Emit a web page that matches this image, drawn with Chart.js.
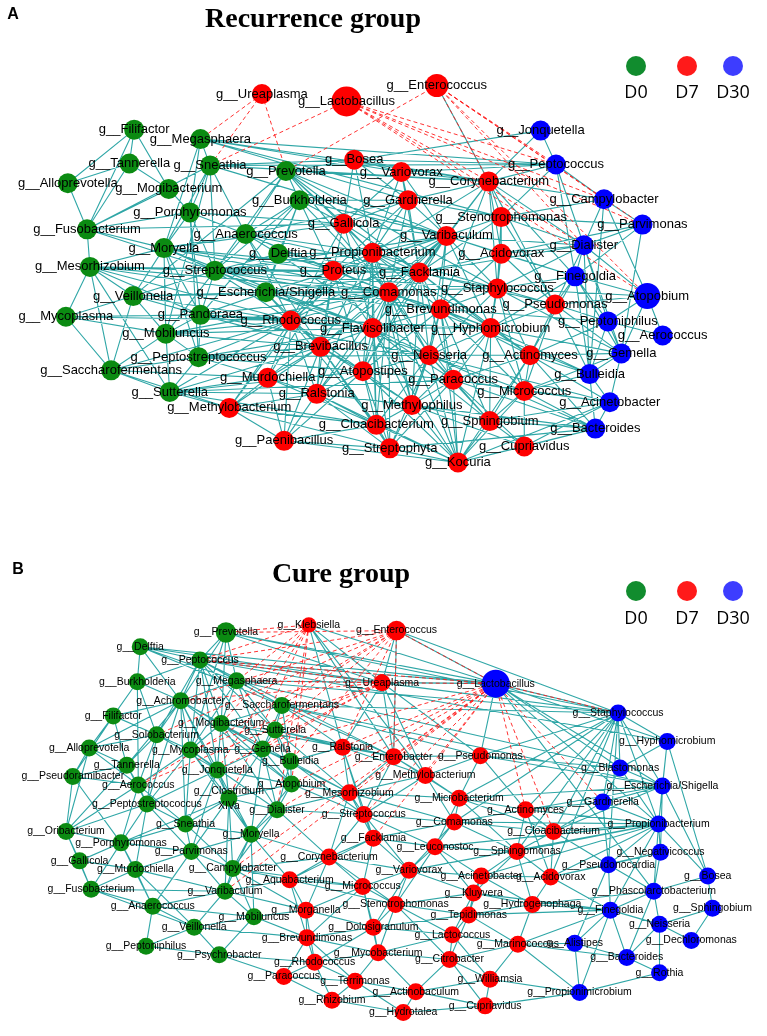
<!DOCTYPE html>
<html>
<head>
<meta charset="utf-8">
<script src="https://cdn.jsdelivr.net/npm/chart.js@4.4.1/dist/chart.umd.min.js"></script>
<style>
  body { margin: 0; background: #fff; }
  #wrap { position: relative; width: 767px; height: 1036px; overflow: hidden; }
  canvas { position: absolute; left: 0; }
  .tag { position: absolute; font: bold 16px "Liberation Sans", Arial, sans-serif; transform: translate(-50%, -50%); }
  .title { position: absolute; font: bold 28px "Liberation Serif", "Times New Roman", serif; transform: translate(-50%, -50%); white-space: nowrap; }
  .dot { position: absolute; width: 20px; height: 20px; border-radius: 50%; transform: translate(-50%, -50%); }
  .lab { position: absolute; font: 18px "Open Sans", "Liberation Sans", sans-serif; transform: translate(-50%, -50%); }
</style>
</head>
<body>
<div id="wrap">
  <canvas id="netA" width="767" height="500" style="top:0;width:767px;height:500px"></canvas>
  <canvas id="netB" width="767" height="536" style="top:500px;width:767px;height:536px"></canvas>

  <div class="tag" style="left:13px;top:14px">A</div>
  <div class="title" style="left:313px;top:18px">Recurrence group</div>
  <div class="dot" style="left:636px;top:66px;background:#118c2e"></div>
  <div class="dot" style="left:687px;top:66px;background:#ff1a1a"></div>
  <div class="dot" style="left:733px;top:66px;background:#3d3dff"></div>
  <div class="lab" style="left:636px;top:91px">D0</div>
  <div class="lab" style="left:687px;top:91px">D7</div>
  <div class="lab" style="left:733px;top:91px">D30</div>

  <div class="tag" style="left:18px;top:569px">B</div>
  <div class="title" style="left:341px;top:573px">Cure group</div>
  <div class="dot" style="left:636px;top:591px;background:#118c2e"></div>
  <div class="dot" style="left:687px;top:591px;background:#ff1a1a"></div>
  <div class="dot" style="left:733px;top:591px;background:#3d3dff"></div>
  <div class="lab" style="left:636px;top:617px">D0</div>
  <div class="lab" style="left:687px;top:617px">D7</div>
  <div class="lab" style="left:733px;top:617px">D30</div>
</div>

<script>
// ---------- A: Recurrence group (layout coordinates) ----------
const aD0Names = ["Filifactor","Megasphaera","Tannerella","Sneathia","Prevotella","Alloprevotella","Mogibacterium",
  "Burkholderia","Porphyromonas","Fusobacterium","Anaerococcus","Moryella","Delftia","Mesorhizobium","Streptococcus",
  "Escherichia/Shigella","Veillonella","Pandoraea","Mycoplasma","Mobiluncus","Peptostreptococcus","Saccharofermentans","Sutterella"];
const aD0X = [124,193,119,203,282,55,160,296,182,75,240,155,274,78,208,261,123,193,53,157,191,100,161];
const aD0Y = [122,132,158,160,166,179,185,197,210,228,233,248,254,268,272,295,299,319,321,339,364,378,401];

const aD7Names = ["Ureaplasma","Lactobacillus","Enterococcus","Bosea","Variovorax","Corynebacterium","Gardnerella",
  "Gallicola","Stenotrophomonas","Varibaculum","Propionibacterium","Acidovorax","Proteus","Facklamia","Comamonas",
  "Staphylococcus","Brevundimonas","Pseudomonas","Rhodococcus","Flavisolibacter","Hyphomicrobium","Brevibacillus",
  "Neisseria","Actinomyces","Atopostipes","Murdochiella","Paracoccus","Ralstonia","Micrococcus","Methylobacterium",
  "Methylophilus","Cloacibacterium","Sphingobium","Paenibacillus","Streptophyta","Cupriavidus","Kocuria"];
const aD7X = [257,345,439,353,402,493,409,342,506,449,372,506,331,421,389,502,443,562,287,372,495,318,431,536,362,263,456,314,530,223,413,376,494,280,390,530,461];
const aD7Y = [84,92,75,154,167,177,197,222,215,235,253,254,272,274,295,291,313,308,325,333,333,353,362,362,379,386,388,403,400,418,415,436,432,453,461,459,476];

const aD30Names = ["Jonquetella","Peptococcus","Campylobacter","Parvimonas","Dialister","Finegoldia","Atopobium",
  "Peptoniphilus","Aerococcus","Gemella","Bulleidia","Acinetobacter","Bacteroides"];
const aD30X = [547,563,613,653,592,583,658,617,674,631,598,619,604];
const aD30Y = [123,159,196,223,245,278,299,326,341,360,382,412,440];

const aBigNames = ["Lactobacillus","Enterococcus","Atopobium"];
const aBigWeights = [1.5, 1.15, 1.3];

const aPosEdges = [
  "Filifactor: Tannerella Alloprevotella Mogibacterium Fusobacterium",
  "Tannerella: Alloprevotella Mogibacterium Fusobacterium",
  "Alloprevotella: Fusobacterium",
  "Mogibacterium: Fusobacterium Porphyromonas",
  "Megasphaera: Sneathia Porphyromonas Moryella Corynebacterium Variovorax Peptococcus Gardnerella Stenotrophomonas",
  "Sneathia: Porphyromonas Moryella Streptococcus Anaerococcus Bosea Corynebacterium Varibaculum Peptococcus Fusobacterium Mobiluncus",
  "Prevotella: Burkholderia Anaerococcus Streptococcus Gallicola Propionibacterium Varibaculum Corynebacterium Staphylococcus Comamonas Facklamia Jonquetella Veillonella",
  "Burkholderia: Anaerococcus Delftia Streptococcus Gallicola Proteus Escherichia/Shigella Varibaculum Gardnerella Comamonas Pandoraea",
  "Porphyromonas: Fusobacterium Moryella Streptococcus Anaerococcus Gallicola Pandoraea Peptostreptococcus",
  "Fusobacterium: Mesorhizobium Moryella Gallicola Streptococcus",
  "Anaerococcus: Moryella Streptococcus Delftia Proteus Facklamia Propionibacterium Comamonas Rhodococcus Brevibacillus Gardnerella",
  "Moryella: Mesorhizobium Streptococcus Veillonella Escherichia/Shigella Pandoraea Mobiluncus Peptostreptococcus Proteus Facklamia Comamonas Flavisolibacter Gallicola",
  "Delftia: Streptococcus Proteus Propionibacterium Facklamia Escherichia/Shigella Neisseria",
  "Mesorhizobium: Veillonella Mycoplasma Saccharofermentans Streptococcus Escherichia/Shigella Proteus Comamonas Rhodococcus Pandoraea Sutterella Facklamia",
  "Streptococcus: Escherichia/Shigella Pandoraea Veillonella Mobiluncus Proteus Propionibacterium Comamonas Facklamia Flavisolibacter Rhodococcus Varibaculum Staphylococcus Brevundimonas",
  "Veillonella: Mycoplasma Saccharofermentans Mobiluncus Pandoraea Escherichia/Shigella Comamonas Rhodococcus",
  "Escherichia/Shigella: Pandoraea Proteus Comamonas Rhodococcus Flavisolibacter Facklamia Brevundimonas Brevibacillus Staphylococcus Varibaculum Neisseria",
  "Mycoplasma: Saccharofermentans Mobiluncus Rhodococcus Pandoraea",
  "Pandoraea: Mobiluncus Peptostreptococcus Rhodococcus Flavisolibacter Brevibacillus Comamonas Hyphomicrobium Neisseria",
  "Mobiluncus: Saccharofermentans Peptostreptococcus Sutterella Rhodococcus Brevibacillus Flavisolibacter Comamonas",
  "Peptostreptococcus: Saccharofermentans Sutterella Brevibacillus Murdochiella Rhodococcus Atopostipes Flavisolibacter Neisseria",
  "Saccharofermentans: Sutterella Murdochiella Methylobacterium Rhodococcus",
  "Sutterella: Murdochiella Methylobacterium Brevibacillus Ralstonia Rhodococcus Atopostipes Cloacibacterium Paracoccus",
  "Enterococcus: Corynebacterium",
  "Bosea: Variovorax Gallicola Propionibacterium Corynebacterium Gardnerella Peptococcus",
  "Variovorax: Gardnerella Corynebacterium Gallicola Varibaculum Peptococcus Propionibacterium Facklamia",
  "Corynebacterium: Gardnerella Stenotrophomonas Varibaculum Acidovorax Peptococcus Campylobacter Dialister Facklamia Propionibacterium Staphylococcus Pseudomonas Finegoldia Jonquetella Brevundimonas",
  "Gardnerella: Gallicola Varibaculum Propionibacterium Stenotrophomonas Facklamia Comamonas Proteus",
  "Gallicola: Propionibacterium Proteus Varibaculum Facklamia Comamonas Flavisolibacter Rhodococcus",
  "Stenotrophomonas: Varibaculum Acidovorax Dialister Peptococcus Parvimonas Staphylococcus Pseudomonas Facklamia Campylobacter",
  "Varibaculum: Propionibacterium Acidovorax Facklamia Comamonas Proteus Staphylococcus Brevundimonas Flavisolibacter Hyphomicrobium Neisseria Dialister Atopostipes Rhodococcus Brevibacillus Murdochiella Finegoldia",
  "Propionibacterium: Proteus Facklamia Comamonas Brevundimonas Flavisolibacter Rhodococcus Brevibacillus Atopostipes Neisseria Ralstonia Methylophilus Cloacibacterium Hyphomicrobium Staphylococcus",
  "Acidovorax: Facklamia Staphylococcus Pseudomonas Dialister Finegoldia Hyphomicrobium Brevundimonas Parvimonas",
  "Proteus: Facklamia Comamonas Rhodococcus Flavisolibacter Brevibacillus Atopostipes Murdochiella Ralstonia Methylobacterium",
  "Facklamia: Comamonas Staphylococcus Brevundimonas Flavisolibacter Hyphomicrobium Neisseria Atopostipes Actinomyces Paracoccus Methylophilus Pseudomonas Dialister",
  "Comamonas: Brevundimonas Rhodococcus Flavisolibacter Brevibacillus Atopostipes Neisseria Ralstonia Paracoccus Cloacibacterium Hyphomicrobium Methylophilus Streptophyta Kocuria Bulleidia",
  "Staphylococcus: Brevundimonas Pseudomonas Hyphomicrobium Actinomyces Finegoldia Dialister Neisseria Micrococcus Gemella Atopobium",
  "Brevundimonas: Flavisolibacter Hyphomicrobium Neisseria Atopostipes Paracoccus Actinomyces Micrococcus Methylophilus Sphingobium Kocuria Peptoniphilus",
  "Pseudomonas: Hyphomicrobium Actinomyces Finegoldia Peptoniphilus Atopobium Gemella Bulleidia Micrococcus Dialister",
  "Rhodococcus: Flavisolibacter Brevibacillus Murdochiella Ralstonia Methylobacterium Atopostipes Paenibacillus Cloacibacterium",
  "Flavisolibacter: Brevibacillus Atopostipes Neisseria Ralstonia Methylophilus Cloacibacterium Paracoccus Streptophyta Kocuria Hyphomicrobium Sphingobium",
  "Hyphomicrobium: Neisseria Actinomyces Paracoccus Micrococcus Sphingobium Kocuria Bulleidia Gemella Methylophilus Finegoldia",
  "Brevibacillus: Atopostipes Murdochiella Ralstonia Methylobacterium Paenibacillus Cloacibacterium Streptophyta Methylophilus Neisseria",
  "Neisseria: Atopostipes Paracoccus Actinomyces Micrococcus Methylophilus Sphingobium Kocuria Cloacibacterium Streptophyta Bacteroides Acinetobacter",
  "Actinomyces: Paracoccus Micrococcus Sphingobium Bulleidia Gemella Acinetobacter Bacteroides Kocuria Finegoldia Peptoniphilus",
  "Atopostipes: Ralstonia Methylophilus Cloacibacterium Paracoccus Streptophyta Kocuria Paenibacillus",
  "Murdochiella: Ralstonia Methylobacterium Paenibacillus Cloacibacterium",
  "Paracoccus: Micrococcus Methylophilus Sphingobium Kocuria Cupriavidus Streptophyta Bacteroides Acinetobacter",
  "Ralstonia: Methylobacterium Paenibacillus Cloacibacterium Streptophyta Methylophilus Kocuria",
  "Micrococcus: Sphingobium Cupriavidus Kocuria Bacteroides Acinetobacter Bulleidia Gemella",
  "Methylobacterium: Paenibacillus Cloacibacterium Streptophyta",
  "Methylophilus: Cloacibacterium Sphingobium Streptophyta Kocuria Cupriavidus Bacteroides",
  "Cloacibacterium: Paenibacillus Streptophyta Kocuria",
  "Sphingobium: Kocuria Cupriavidus Bacteroides Acinetobacter",
  "Paenibacillus: Streptophyta Kocuria",
  "Streptophyta: Kocuria Bacteroides",
  "Cupriavidus: Kocuria Bacteroides Acinetobacter",
  "Kocuria: Bacteroides Acinetobacter",
  "Jonquetella: Peptococcus",
  "Peptococcus: Campylobacter Dialister Finegoldia",
  "Campylobacter: Parvimonas Dialister Bulleidia Atopobium",
  "Parvimonas: Dialister Finegoldia Gemella",
  "Dialister: Finegoldia Peptoniphilus Gemella Bulleidia Atopobium",
  "Finegoldia: Atopobium Peptoniphilus Gemella Bulleidia",
  "Atopobium: Peptoniphilus Aerococcus Gemella",
  "Peptoniphilus: Aerococcus Gemella Bulleidia",
  "Gemella: Bulleidia Acinetobacter",
  "Bulleidia: Acinetobacter Bacteroides",
  "Acinetobacter: Bacteroides"
];
const aNegEdges = [
  "Ureaplasma: Megasphaera Sneathia Prevotella",
  "Lactobacillus: Sneathia Corynebacterium Peptococcus Campylobacter Dialister Atopobium Parvimonas",
  "Enterococcus: Prevotella Corynebacterium Peptococcus Parvimonas Dialister Atopobium Campylobacter"
];

// ---------- B: Cure group (layout coordinates) ----------
const bD0Names = ["Prevotella","Delftia","Peptococcus","Burkholderia","Megasphaera","Achromobacter","Saccharofermentans",
  "Filifactor","Mogibacterium","Sutterella","Solobacterium","Alloprevotella","Mycoplasma","Gemella","Tannerella","Bulleidia",
  "Pseudoramibacter","Jonquetella","Aerococcus","Atopobium","Clostridium\nXIVa","Peptostreptococcus","Dialister","Oribacterium",
  "Sneathia","Moryella","Porphyromonas","Parvimonas","Gallicola","Murdochiella","Campylobacter","Fusobacterium","Varibaculum",
  "Anaerococcus","Mobiluncus","Veillonella","Peptoniphilus","Psychrobacter"];
const bD0X = [220,131,193,128,231,173,278,103,215,271,148,78,183,258,117,287,61,211,129,288,223,138,273,54,178,246,111,184,68,126,227,80,219,144,249,187,137,213];
const bD0Y = [625,640,654,677,676,697,702,713,721,728,733,747,749,748,765,761,777,770,786,785,800,806,812,835,827,838,847,856,866,875,874,896,898,914,925,936,956,965];

const bD7Names = ["Klebsiella","Enterococcus","Ureaplasma","Ralstonia","Enterobacter","Pseudomonas","Methylobacterium",
  "Mesorhizobium","Microbacterium","Actinomyces","Streptococcus","Comamonas","Cloacibacterium","Facklamia","Leuconostoc",
  "Sphingomonas","Corynebacterium","Variovorax","Acinetobacter","Acidovorax","Aquabacterium","Micrococcus","Kluyvera",
  "Stenotrophomonas","Hydrogenophaga","Morganella","Tepidimonas","Dolosigranulum","Lactococcus","Brevundimonas","Marinococcus",
  "Mycobacterium","Citrobacter","Rhodococcus","Paracoccus","Terrimonas","Williamsia","Actinobaculum","Rhizobium","Cupriavidus","Hydrotalea"];
const bD7X = [306,397,382,341,394,484,427,348,462,531,363,457,560,373,437,522,327,410,485,557,286,362,477,396,538,303,472,373,455,304,523,378,452,312,280,354,494,417,330,489,404];
const bD7Y = [617,623,678,746,756,755,776,794,800,812,817,825,835,842,851,856,862,876,882,883,886,893,900,912,912,918,923,936,944,947,954,963,970,973,988,993,991,1004,1013,1019,1026];

const bD30Names = ["Lactobacillus","Staphylococcus","Hyphomicrobium","Blastomonas","Escherichia/Shigella","Gardnerella",
  "Propionibacterium","Negativicoccus","Pseudonocardia","Bosea","Phascolarctobacterium","Sphingobium","Finegoldia","Neisseria",
  "Dechloromonas","Alistipes","Bacteroides","Rothia","Propionimicrobium"];
const bD30X = [500,627,678,629,673,611,669,671,617,720,664,725,619,670,703,582,636,670,587];
const bD30Y = [679,710,740,768,787,804,827,857,870,882,898,916,918,933,950,953,968,984,1005];

const bBigNames = ["Lactobacillus","Prevotella","Enterococcus","Klebsiella"];
const bBigWeights = [1.65, 1.2, 1.15, 0.9];

const bPosEdges = [
  "Prevotella: Peptococcus Achromobacter Megasphaera Mogibacterium Mycoplasma Ureaplasma Lactobacillus Staphylococcus",
  "Delftia: Peptococcus Burkholderia Achromobacter Megasphaera Saccharofermentans Ureaplasma Lactobacillus",
  "Peptococcus: Burkholderia Achromobacter Megasphaera Saccharofermentans Mogibacterium Sutterella Solobacterium Mycoplasma Gemella Jonquetella Lactobacillus Ureaplasma Enterobacter Staphylococcus Hyphomicrobium",
  "Burkholderia: Achromobacter Filifactor Solobacterium Aerococcus",
  "Megasphaera: Achromobacter Saccharofermentans Mogibacterium Sutterella Gemella Mycoplasma Lactobacillus Staphylococcus Blastomonas",
  "Achromobacter: Filifactor Solobacterium Mogibacterium Mycoplasma Alloprevotella Tannerella Jonquetella Gemella Atopobium Clostridium Peptostreptococcus Sneathia",
  "Saccharofermentans: Mogibacterium Sutterella Gemella Bulleidia Ralstonia Enterobacter Pseudomonas Staphylococcus Escherichia/Shigella",
  "Filifactor: Alloprevotella Solobacterium Tannerella Pseudoramibacter",
  "Mogibacterium: Sutterella Mycoplasma Gemella Jonquetella Bulleidia Atopobium Clostridium Dialister Ralstonia",
  "Sutterella: Gemella Bulleidia Atopobium Ralstonia Enterobacter Mesorhizobium",
  "Solobacterium: Alloprevotella Mycoplasma Tannerella Aerococcus Jonquetella Peptostreptococcus",
  "Alloprevotella: Tannerella Pseudoramibacter Aerococcus Oribacterium",
  "Mycoplasma: Gemella Jonquetella Aerococcus Clostridium Peptostreptococcus Sneathia Moryella Dialister",
  "Gemella: Bulleidia Jonquetella Atopobium Clostridium Dialister Moryella Mesorhizobium",
  "Tannerella: Pseudoramibacter Aerococcus Peptostreptococcus Oribacterium",
  "Bulleidia: Atopobium Dialister Mesorhizobium Streptococcus Ralstonia",
  "Pseudoramibacter: Aerococcus Oribacterium Porphyromonas",
  "Jonquetella: Clostridium Sneathia Parvimonas Moryella Atopobium Peptostreptococcus",
  "Aerococcus: Peptostreptococcus Porphyromonas Oribacterium Sneathia",
  "Atopobium: Clostridium Dialister Moryella Streptococcus Mesorhizobium",
  "Clostridium: Sneathia Moryella Parvimonas Campylobacter Dialister Varibaculum Porphyromonas",
  "Peptostreptococcus: Porphyromonas Oribacterium Sneathia Parvimonas Murdochiella",
  "Dialister: Moryella Campylobacter Mesorhizobium Streptococcus Corynebacterium",
  "Oribacterium: Porphyromonas Gallicola Fusobacterium",
  "Sneathia: Porphyromonas Parvimonas Moryella Campylobacter",
  "Moryella: Campylobacter Parvimonas Varibaculum Mobiluncus Corynebacterium Aquabacterium",
  "Porphyromonas: Gallicola Murdochiella Parvimonas Fusobacterium Anaerococcus",
  "Parvimonas: Murdochiella Campylobacter Varibaculum Anaerococcus",
  "Gallicola: Murdochiella Fusobacterium",
  "Murdochiella: Fusobacterium Anaerococcus Varibaculum Veillonella",
  "Campylobacter: Varibaculum Mobiluncus Corynebacterium Aquabacterium Micrococcus Morganella",
  "Fusobacterium: Anaerococcus Varibaculum Veillonella",
  "Varibaculum: Anaerococcus Mobiluncus Veillonella Aquabacterium Morganella",
  "Anaerococcus: Veillonella Peptoniphilus Mobiluncus",
  "Mobiluncus: Veillonella Psychrobacter Morganella Brevundimonas",
  "Veillonella: Peptoniphilus Psychrobacter Brevundimonas",
  "Peptoniphilus: Psychrobacter",
  "Psychrobacter: Rhodococcus Paracoccus",
  "Klebsiella: Ureaplasma Enterobacter Ralstonia Lactobacillus Methylobacterium",
  "Enterococcus: Ureaplasma Lactobacillus Staphylococcus Enterobacter",
  "Ureaplasma: Ralstonia Enterobacter Methylobacterium Pseudomonas Lactobacillus Staphylococcus",
  "Lactobacillus: Staphylococcus Pseudomonas Hyphomicrobium Blastomonas Escherichia/Shigella Propionibacterium Phascolarctobacterium",
  "Ralstonia: Enterobacter Mesorhizobium Streptococcus Methylobacterium Facklamia",
  "Enterobacter: Methylobacterium Pseudomonas Mesorhizobium Streptococcus Microbacterium",
  "Pseudomonas: Methylobacterium Microbacterium Actinomyces Staphylococcus Blastomonas",
  "Methylobacterium: Mesorhizobium Microbacterium Comamonas Streptococcus",
  "Mesorhizobium: Streptococcus Facklamia Corynebacterium Microbacterium Comamonas",
  "Microbacterium: Comamonas Actinomyces Leuconostoc Cloacibacterium Sphingomonas",
  "Streptococcus: Facklamia Comamonas Corynebacterium Leuconostoc Variovorax",
  "Actinomyces: Cloacibacterium Sphingomonas Comamonas Acidovorax Gardnerella Propionibacterium",
  "Comamonas: Leuconostoc Facklamia Sphingomonas Variovorax Cloacibacterium",
  "Facklamia: Corynebacterium Leuconostoc Variovorax Micrococcus Aquabacterium",
  "Leuconostoc: Sphingomonas Variovorax Acinetobacter Kluyvera Stenotrophomonas",
  "Sphingomonas: Cloacibacterium Acidovorax Acinetobacter Kluyvera Hydrogenophaga",
  "Cloacibacterium: Acidovorax Propionibacterium Gardnerella Pseudonocardia",
  "Corynebacterium: Aquabacterium Micrococcus Variovorax Morganella Stenotrophomonas",
  "Variovorax: Micrococcus Stenotrophomonas Acinetobacter Kluyvera Dolosigranulum",
  "Acinetobacter: Acidovorax Kluyvera Tepidimonas Hydrogenophaga",
  "Acidovorax: Hydrogenophaga Pseudonocardia Finegoldia Propionibacterium Negativicoccus",
  "Aquabacterium: Micrococcus Morganella Stenotrophomonas Brevundimonas",
  "Micrococcus: Stenotrophomonas Morganella Dolosigranulum Brevundimonas Mycobacterium",
  "Kluyvera: Tepidimonas Hydrogenophaga Stenotrophomonas Lactococcus",
  "Stenotrophomonas: Dolosigranulum Tepidimonas Mycobacterium Lactococcus Citrobacter",
  "Morganella: Dolosigranulum Brevundimonas Rhodococcus",
  "Hydrogenophaga: Tepidimonas Marinococcus Finegoldia Phascolarctobacterium",
  "Tepidimonas: Lactococcus Dolosigranulum Marinococcus Citrobacter",
  "Dolosigranulum: Brevundimonas Mycobacterium Lactococcus Rhodococcus",
  "Brevundimonas: Rhodococcus Mycobacterium Paracoccus Terrimonas",
  "Lactococcus: Citrobacter Marinococcus Mycobacterium Williamsia",
  "Marinococcus: Citrobacter Williamsia Alistipes Propionimicrobium Bacteroides Finegoldia",
  "Mycobacterium: Rhodococcus Terrimonas Actinobaculum Citrobacter",
  "Rhodococcus: Paracoccus Terrimonas Rhizobium",
  "Citrobacter: Williamsia Actinobaculum Cupriavidus",
  "Paracoccus: Rhizobium Terrimonas",
  "Terrimonas: Rhizobium Actinobaculum Hydrotalea",
  "Williamsia: Actinobaculum Cupriavidus Propionimicrobium",
  "Actinobaculum: Hydrotalea Cupriavidus Rhizobium",
  "Rhizobium: Hydrotalea",
  "Hydrotalea: Cupriavidus",
  "Cupriavidus: Propionimicrobium",
  "Staphylococcus: Hyphomicrobium Blastomonas Escherichia/Shigella Gardnerella Propionibacterium Pseudonocardia Cloacibacterium Actinomyces Sphingomonas Acidovorax Microbacterium Comamonas",
  "Hyphomicrobium: Blastomonas Escherichia/Shigella Propionibacterium Bosea",
  "Blastomonas: Escherichia/Shigella Gardnerella Propionibacterium",
  "Escherichia/Shigella: Gardnerella Propionibacterium Negativicoccus Bosea Cloacibacterium Actinomyces Microbacterium Pseudomonas",
  "Gardnerella: Propionibacterium Pseudonocardia",
  "Propionibacterium: Negativicoccus Pseudonocardia Bosea Phascolarctobacterium Finegoldia Cloacibacterium Actinomyces Sphingomonas Acidovorax Acinetobacter Variovorax Leuconostoc Comamonas",
  "Negativicoccus: Pseudonocardia Phascolarctobacterium",
  "Pseudonocardia: Phascolarctobacterium Finegoldia Alistipes",
  "Bosea: Phascolarctobacterium Sphingobium",
  "Phascolarctobacterium: Finegoldia Neisseria Bacteroides",
  "Sphingobium: Dechloromonas Neisseria",
  "Finegoldia: Neisseria Alistipes Bacteroides Propionimicrobium Hydrogenophaga Acidovorax Tepidimonas Kluyvera",
  "Neisseria: Dechloromonas Bacteroides Rothia",
  "Alistipes: Bacteroides Propionimicrobium",
  "Bacteroides: Rothia",
  "Propionimicrobium: Rothia"
];
const bNegEdges = [
  "Klebsiella: Prevotella Peptococcus Megasphaera Mogibacterium Jonquetella Atopobium Dialister Clostridium",
  "Enterococcus: Prevotella Peptococcus Achromobacter Saccharofermentans Solobacterium Aerococcus Sutterella Ralstonia Enterobacter Bulleidia",
  "Ureaplasma: Peptococcus Megasphaera Achromobacter Gemella Jonquetella Aerococcus Mycoplasma",
  "Lactobacillus: Ureaplasma Enterococcus Peptococcus Ralstonia Enterobacter Methylobacterium Mesorhizobium Streptococcus Facklamia Campylobacter Varibaculum Atopobium Gemella Staphylococcus Gardnerella Actinomyces Cloacibacterium Dialister"
];

// ---------- helpers ----------
function buildNodes(names, xs, ys, bigNames, bigWeights) {
  return names.map((n, i) => {
    const key = n.split('\n')[0];
    const k = bigNames.indexOf(key);
    return { x: xs[i], y: ys[i], name: n, key: key, w: k >= 0 ? bigWeights[k] : 1 };
  });
}

function buildEdges(list, nodes) {
  const lookup = {};
  nodes.forEach(p => { lookup[p.key] = p; });
  const out = [];
  list.forEach(row => {
    const parts = row.split(':');
    const a = lookup[parts[0].trim()];
    parts[1].trim().split(/\s+/).forEach(t => {
      const b = lookup[t];
      if (!a || !b) { console.warn('missing node', parts[0], t); return; }
      out.push({ x: a.x, y: a.y }, { x: b.x, y: b.y }, { x: NaN, y: NaN });
    });
  });
  return out;
}

const nodeLabels = {
  id: 'nodeLabels',
  afterDatasetsDraw(chart, args, opts) {
    const ctx = chart.ctx;
    ctx.save();
    ctx.font = opts.size + 'px "Liberation Sans", Arial, sans-serif';
    ctx.fillStyle = '#000';
    ctx.textAlign = 'center';
    ctx.textBaseline = 'middle';
    const lh = opts.size * 1.4;
    chart.data.datasets.forEach((ds, i) => {
      if (!ds.isNode) return;
      chart.getDatasetMeta(i).data.forEach((pt, j) => {
        const lines = ('g__' + ds.data[j].name).split('\n');
        lines.forEach((s, k) => {
          ctx.fillText(s, pt.x, pt.y - (lines.length - 1) * lh / 2 + k * lh);
        });
      });
    });
    ctx.restore();
  }
};

function drawNetwork(id, groups, posEdges, negEdges, yMin, yMax, baseR, fontSize) {
  const all = groups.flatMap(g => g.nodes);
  const colors = ['#0b8b12', '#ff0000', '#0000ff'];
  const datasets = groups.map((g, gi) => ({
    label: g.label,
    isNode: true,
    order: 0,
    data: g.nodes,
    backgroundColor: colors[gi],
    borderColor: colors[gi],
    borderWidth: 0,
    pointRadius: c => baseR * c.raw.w,
    pointHoverRadius: c => baseR * c.raw.w
  }));
  datasets.push({
    label: 'negative',
    order: 1,
    data: buildEdges(negEdges, all),
    showLine: true,
    borderColor: 'rgba(255,30,30,0.9)',
    borderWidth: 1,
    borderDash: [4, 3],
    pointRadius: 0,
    pointHitRadius: 0
  });
  datasets.push({
    label: 'positive',
    order: 2,
    data: buildEdges(posEdges, all),
    showLine: true,
    borderColor: 'rgba(10,150,150,0.85)',
    borderWidth: 1.1,
    pointRadius: 0,
    pointHitRadius: 0
  });
  new Chart(document.getElementById(id), {
    type: 'scatter',
    data: { datasets: datasets },
    options: {
      responsive: false,
      animation: false,
      events: [],
      layout: { padding: 0 },
      scales: {
        x: { type: 'linear', min: 0, max: 767, display: false },
        y: { type: 'linear', min: yMin, max: yMax, reverse: true, display: false }
      },
      plugins: {
        legend: { display: false },
        tooltip: { enabled: false },
        nodeLabels: { size: fontSize }
      }
    },
    plugins: [nodeLabels]
  });
}

drawNetwork('netA', [
  { label: 'D0', nodes: buildNodes(aD0Names, aD0X, aD0Y, aBigNames, aBigWeights) },
  { label: 'D7', nodes: buildNodes(aD7Names, aD7X, aD7Y, aBigNames, aBigWeights) },
  { label: 'D30', nodes: buildNodes(aD30Names, aD30X, aD30Y, aBigNames, aBigWeights) }
], aPosEdges, aNegEdges, 0, 500, 10, 13);

drawNetwork('netB', [
  { label: 'D0', nodes: buildNodes(bD0Names, bD0X, bD0Y, bBigNames, bBigWeights) },
  { label: 'D7', nodes: buildNodes(bD7Names, bD7X, bD7Y, bBigNames, bBigWeights) },
  { label: 'D30', nodes: buildNodes(bD30Names, bD30X, bD30Y, bBigNames, bBigWeights) }
], bPosEdges, bNegEdges, 500, 1036, 8.5, 10.5);
</script>
</body>
</html>
